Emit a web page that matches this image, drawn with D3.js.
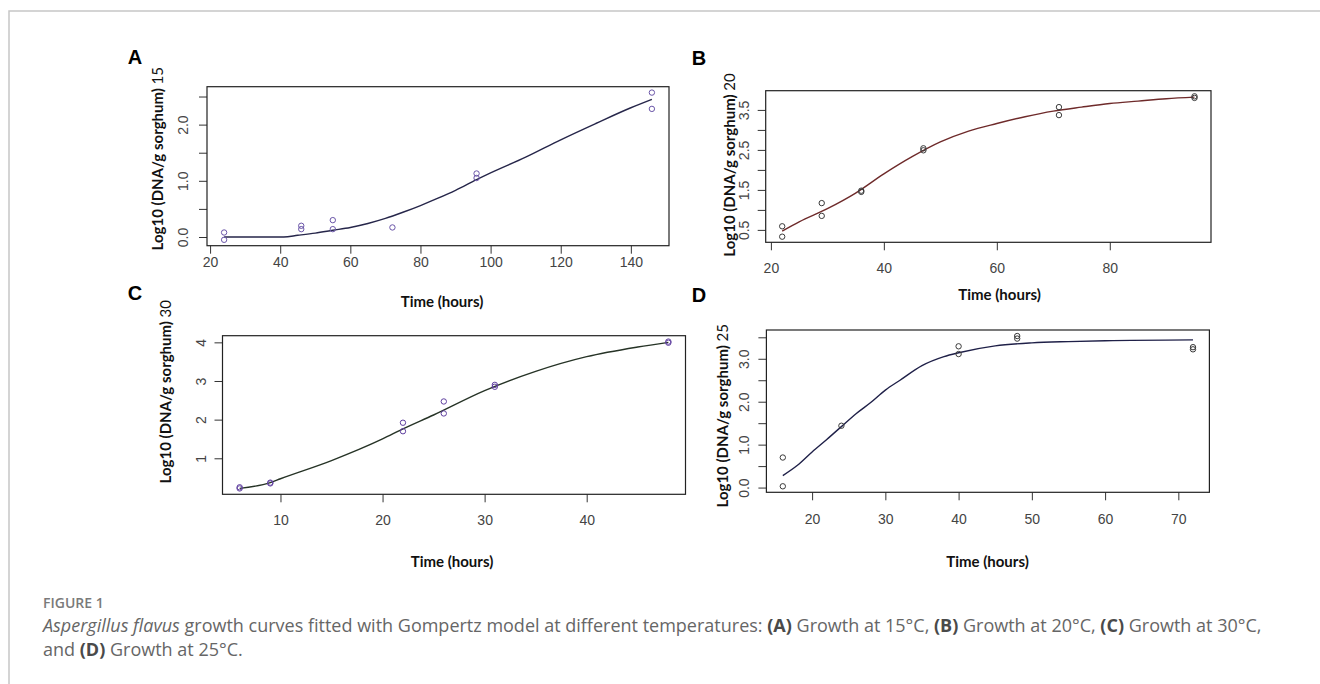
<!DOCTYPE html>
<html>
<head>
<meta charset="utf-8">
<script src="https://cdn.jsdelivr.net/npm/d3@7"></script>
<style>
  body { margin: 0; background: #fff; }
  svg { display: block; }
</style>
</head>
<body>
<div id="fig"></div>
<script>
// observed points (time in hours, log10 DNA/g sorghum)
var timesA = [24, 24, 46, 46, 55, 55, 72, 96, 96, 146, 146];
var dnaA   = [0.08, -0.05, 0.2, 0.14, 0.3, 0.14, 0.17, 1.13, 1.05, 2.57, 2.28];
var timesB = [22, 22, 29, 29, 36, 36, 47, 47, 71, 71, 95, 95];
var dnaB   = [0.59, 0.33, 1.17, 0.85, 1.48, 1.45, 2.54, 2.49, 3.57, 3.37, 3.84, 3.8];
var timesC = [6, 6, 9, 9, 22, 22, 26, 26, 31, 31, 48, 48];
var dnaC   = [0.25, 0.22, 0.37, 0.35, 1.92, 1.7, 2.47, 2.16, 2.9, 2.85, 4.02, 3.99];
var timesD = [16, 16, 24, 40, 40, 48, 48, 72, 72];
var dnaD   = [0.7, 0.03, 1.44, 3.29, 3.11, 3.53, 3.47, 3.27, 3.22];

// fitted Gompertz curves
var fitTimesA = [24, 30, 35, 41, 45, 50, 55, 60, 65, 70, 75, 80, 85, 90, 96, 100, 110, 120, 130, 140, 146];
var fitDnaA   = [0, 0, 0, 0, 0.03, 0.07, 0.12, 0.17, 0.24, 0.33, 0.44, 0.56, 0.69, 0.83, 1.02, 1.14, 1.42, 1.73, 2.02, 2.3, 2.45];
var fitTimesB = [22, 25, 30, 35, 40, 45, 50, 55, 60, 65, 70, 75, 80, 85, 90, 95];
var fitDnaB   = [0.47, 0.7, 1.03, 1.42, 1.9, 2.33, 2.7, 2.97, 3.16, 3.33, 3.47, 3.57, 3.66, 3.72, 3.78, 3.82];
var fitTimesC = [6, 9, 10, 15, 20, 22, 25, 30, 35, 40, 45, 48];
var fitDnaC   = [0.22, 0.37, 0.47, 0.94, 1.5, 1.76, 2.12, 2.75, 3.25, 3.63, 3.88, 4.0];
var fitTimesD = [16, 18, 20, 22, 24, 26, 28, 30, 32, 35, 38, 40, 45, 50, 55, 60, 72];
var fitDnaD   = [0.28, 0.52, 0.83, 1.12, 1.42, 1.72, 1.98, 2.27, 2.5, 2.84, 3.05, 3.14, 3.3, 3.37, 3.4, 3.42, 3.44];

// tick values and labels
var xTicksA = [20, 40, 60, 80, 100, 120, 140];
var xTicksB = [20, 40, 60, 80];
var xTicksC = [10, 20, 30, 40];
var xTicksD = [20, 30, 40, 50, 60, 70];
var yTicksA = [0, 0.5, 1, 1.5, 2, 2.5];
var yLabelsA = ["0.0", "", "1.0", "", "2.0", ""];
var yTicksB = [0.5, 1, 1.5, 2, 2.5, 3, 3.5];
var yLabelsB = ["0.5", "", "1.5", "", "2.5", "", "3.5"];
var yTicksC = [1, 2, 3, 4];
var yLabelsC = ["1", "2", "3", "4"];
var yTicksD = [0, 0.5, 1, 1.5, 2, 2.5, 3, 3.5];
var yLabelsD = ["0.0", "", "1.0", "", "2.0", "", "3.0", ""];

var panelLetters = ["A", "B", "C", "D"];
var temps = ["15", "20", "30", "25"];

var svg = d3.select("#fig").append("svg")
    .attr("width", 1320)
    .attr("height", 684);

// page frame
svg.append("path")
    .attr("d", "M9,684V11H1320")
    .attr("fill", "none")
    .attr("stroke", "#c6c6c6")
    .attr("stroke-width", 1.5);

var panels = [
    {times: timesA, dna: dnaA, fitT: fitTimesA, fitY: fitDnaA, xTicks: xTicksA, yTicks: yTicksA, yLabels: yLabelsA,
     box: {l: 207, r: 669, t: 86.7, b: 245.7}, letter: [135, 57], yTitle: [158, 158.7], xTitle: [442, 301.7],
     xLabOff: 16, yLabOff: 24, lineColor: "#26264a", pointColor: "#6a55a8"},
    {times: timesB, dna: dnaB, fitT: fitTimesB, fitY: fitDnaB, xTicks: xTicksB, yTicks: yTicksB, yLabels: yLabelsB,
     box: {l: 765.7, r: 1211, t: 90.7, b: 242.3}, letter: [699, 57.3], yTitle: [730, 165], xTitle: [999.6, 295],
     xLabOff: 25.4, yLabOff: 22, lineColor: "#6e2a2a", pointColor: "#3a3a3a"},
    {times: timesC, dna: dnaC, fitT: fitTimesC, fitY: fitDnaC, xTicks: xTicksC, yTicks: yTicksC, yLabels: yLabelsC,
     box: {l: 222.5, r: 685.5, t: 335.7, b: 494.3}, letter: [135, 293], yTitle: [165.4, 391.7], xTitle: [452, 561.7],
     xLabOff: 25.7, yLabOff: 21.5, lineColor: "#263326", pointColor: "#6040a0"},
    {times: timesD, dna: dnaD, fitT: fitTimesD, fitY: fitDnaD, xTicks: xTicksD, yTicks: yTicksD, yLabels: yLabelsD,
     box: {l: 766.4, r: 1209.4, t: 330, b: 492.3}, letter: [699, 294.7], yTitle: [722.9, 415.8], xTitle: [987.5, 561.7],
     xLabOff: 26.7, yLabOff: 22, lineColor: "#1f2048", pointColor: "#3a3a3a"}
];

// R style axis range: data extent padded by 4% on each side
function padded(vals) {
    var e = d3.extent(vals);
    var p = (e[1] - e[0]) * 0.04;
    return [e[0] - p, e[1] + p];
}

panels.forEach(function (p, i) {
    var x = d3.scaleLinear().domain(padded(p.times)).range([p.box.l, p.box.r]);
    var y = d3.scaleLinear().domain(padded(p.dna)).range([p.box.b, p.box.t]);
    var g = svg.append("g");

    // x axis
    var xa = g.append("g")
        .attr("transform", "translate(0," + p.box.b + ")")
        .call(d3.axisBottom(x).tickValues(p.xTicks).tickSize(8).tickFormat(d3.format("d")));
    xa.select(".domain").remove();
    xa.selectAll("line").attr("stroke", "#333");
    xa.selectAll("text")
        .attr("y", p.xLabOff)
        .attr("dy", "0.35em")
        .attr("fill", "#444")
        .style("font", "14px 'Liberation Sans', Arial, sans-serif");

    // y axis, labels turned like R's default
    var ya = g.append("g")
        .attr("transform", "translate(" + p.box.l + ",0)")
        .call(d3.axisLeft(y).tickValues(p.yTicks).tickSize(8)
            .tickFormat(function (d, k) { return p.yLabels[k]; }));
    ya.select(".domain").remove();
    ya.selectAll("line").attr("stroke", "#333");
    ya.selectAll("text")
        .attr("x", null)
        .attr("dy", "0.35em")
        .attr("text-anchor", "middle")
        .attr("transform", "translate(" + (-p.yLabOff) + ",0) rotate(-90)")
        .attr("fill", "#444")
        .style("font", "14px 'Liberation Sans', Arial, sans-serif");

    // plot box
    g.append("rect")
        .attr("x", p.box.l)
        .attr("y", p.box.t)
        .attr("width", p.box.r - p.box.l)
        .attr("height", p.box.b - p.box.t)
        .attr("fill", "none")
        .attr("stroke", "#222")
        .attr("stroke-width", 1.2);

    // fitted curve
    var line = d3.line()
        .x(function (d) { return x(d[0]); })
        .y(function (d) { return y(d[1]); })
        .curve(d3.curveMonotoneX);
    g.append("path")
        .datum(d3.zip(p.fitT, p.fitY))
        .attr("d", line)
        .attr("fill", "none")
        .attr("stroke", p.lineColor)
        .attr("stroke-width", 1.4);

    // observations
    g.selectAll(".pt")
        .data(d3.zip(p.times, p.dna))
        .enter().append("circle")
        .attr("class", "pt")
        .attr("cx", function (d) { return x(d[0]); })
        .attr("cy", function (d) { return y(d[1]); })
        .attr("r", 2.7)
        .attr("fill", "none")
        .attr("stroke", p.pointColor)
        .attr("stroke-width", 1);

    // titles
    var yt = g.append("text")
        .attr("transform", "translate(" + p.yTitle[0] + "," + p.yTitle[1] + ") rotate(-90)")
        .attr("dy", "0.35em")
        .attr("text-anchor", "middle")
        .attr("fill", "#111")
        .style("font-family", "Lato, 'Open Sans', sans-serif")
        .style("font-size", "15px");
    yt.append("tspan").style("font-weight", 700).text("Log10 (DNA/g sorghum) ");
    yt.append("tspan").style("font-weight", 400).text(temps[i]);

    g.append("text")
        .attr("x", p.xTitle[0])
        .attr("y", p.xTitle[1])
        .attr("dy", "0.35em")
        .attr("text-anchor", "middle")
        .attr("fill", "#111")
        .style("font", "700 15px Lato, 'Open Sans', sans-serif")
        .text("Time (hours)");

    g.append("text")
        .attr("x", p.letter[0])
        .attr("y", p.letter[1])
        .attr("dy", "0.36em")
        .attr("text-anchor", "middle")
        .attr("fill", "#000")
        .style("font", "700 20px 'Liberation Sans', Arial, sans-serif")
        .text(panelLetters[i]);
});

// caption
svg.append("text")
    .attr("x", 43)
    .attr("y", 607.5)
    .attr("fill", "#7a7a7a")
    .style("font", "600 14px 'Open Sans', sans-serif")
    .text("FIGURE 1");

var cap1 = svg.append("text")
    .attr("x", 43)
    .attr("y", 632)
    .attr("fill", "#666")
    .style("font", "18px 'Open Sans', sans-serif");
cap1.append("tspan").style("font-style", "italic").text("Aspergillus flavus");
cap1.append("tspan").text(" growth curves fitted with Gompertz model at different temperatures: ");
cap1.append("tspan").style("font-weight", 700).attr("fill", "#4a4a4a").text("(A)");
cap1.append("tspan").text(" Growth at 15°C, ");
cap1.append("tspan").style("font-weight", 700).attr("fill", "#4a4a4a").text("(B)");
cap1.append("tspan").text(" Growth at 20°C, ");
cap1.append("tspan").style("font-weight", 700).attr("fill", "#4a4a4a").text("(C)");
cap1.append("tspan").text(" Growth at 30°C,");

var cap2 = svg.append("text")
    .attr("x", 43)
    .attr("y", 656)
    .attr("fill", "#666")
    .style("font", "18px 'Open Sans', sans-serif");
cap2.append("tspan").text("and ");
cap2.append("tspan").style("font-weight", 700).attr("fill", "#4a4a4a").text("(D)");
cap2.append("tspan").text(" Growth at 25°C.");
</script>
</body>
</html>
